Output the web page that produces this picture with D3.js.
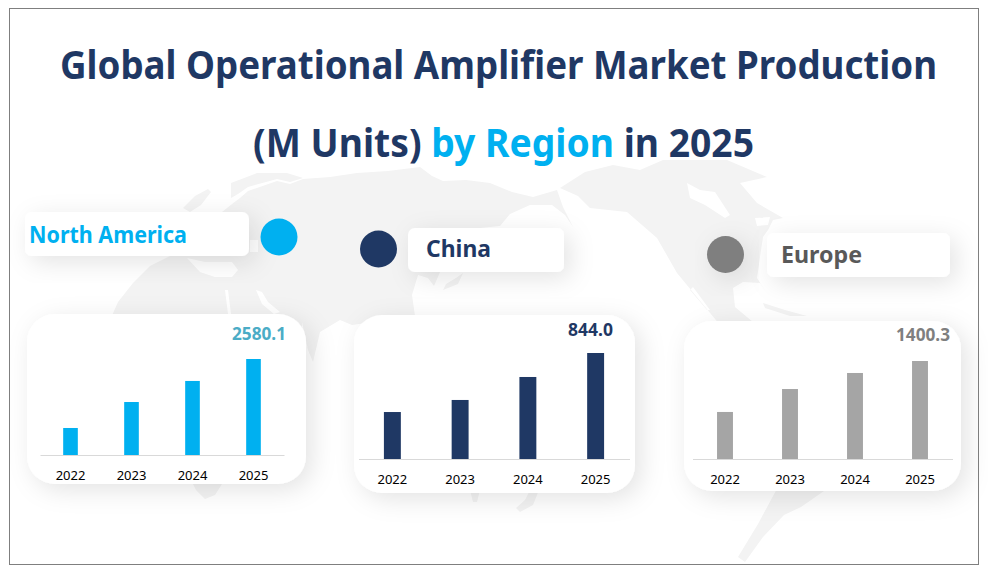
<!DOCTYPE html>
<html>
<head>
<meta charset="utf-8">
<title>Global Operational Amplifier Market Production</title>
<script src="https://cdn.jsdelivr.net/npm/d3@7"></script>
<style>
  html, body { margin: 0; padding: 0; background: #fff; }
  svg { display: block; }
  text { font-family: "Noto Sans", sans-serif; }
  .title, .label, .value { font-weight: 700; }
</style>
</head>
<body>
<svg id="chart" width="988" height="585"></svg>
<script>
// Values, the 2025 ones are printed on it
var years = ["2022", "2023", "2024", "2025"];
var northAmerica = [726, 1424, 1990, 2580.1];
var china = [374, 470, 653, 844.0];
var europe = [672, 1000, 1229, 1400.3];

var regionNames = ["North America", "China", "Europe"];
var regionValues = [northAmerica, china, europe];

// Layout of each region
var panels = [
    { card: [27, 314, 279, 170], axis: [40, 284, 455, 359], pad: 0.76, tickPad: 16, color: "#00B0F0",
      value: [286, 340, 54, "#4BACC6"], box: [25, 212, 224, 44], text: [29, 243, 158, "#00B0F0"],
      dot: [279, 237, 18.5, "#00B0F0"], dotShadow: false },
    { card: [354, 315, 281, 178], axis: [358.5, 629.5, 459, 353], pad: 0.75, tickPad: 16, color: "#1F3864",
      value: [613, 336, 45, "#1F3864"], box: [408, 228, 156, 44], text: [426, 257, 65, "#1F3864"],
      dot: [378.5, 249, 18.5, "#1F3864"], dotShadow: false },
    { card: [684, 321, 277, 170], axis: [692.5, 952.5, 459, 361], pad: 0.755, tickPad: 16, color: "#A5A5A5",
      value: [950, 341, 54, "#7F7F7F"], box: [767, 233, 183, 44], text: [781, 263, 81, "#595959"],
      dot: [725.5, 254.5, 18.5, "#7F7F7F"], dotShadow: true }
];

// Pale world map behind everything, hand traced, seas are holes
var mapPaths = [
    // Africa and Eurasia
    "M110,320L118,302L133,283L150,266L170,256L178,230L200,213L222,212L232,204L240,198L248,191L277,181L290,184L303,179L330,177L357,173L388,171L420,167L432,176L443,181L466,180L490,183L512,192L533,197L557,190L563,207L573,227L565,215L552,205L530,205L510,214L500,226L480,228L470,272L440,272L434,286L428,278L418,275L412,295L415,316L352,325L340,320L320,332L313,362L308,350L302,322L300,400L222,484L215,495L205,499L196,490L150,400Z" +
    "M187,258L205,262L232,262L238,270L232,277L215,277L200,272Z" +
    "M250,240L258,240L258,252L250,252Z" +
    "M225,290L228,290L231,314L228,314Z" +
    "M256,290L262,292L268,302L280,312L274,314L262,304Z",
    // Northern Scandinavia and the arctic coast
    "M231,183L257,173L287,173L303,178L290,182L277,179L248,187L238,194L231,198Z",
    "M183,208L195,196L208,189L211,192L201,205L190,212Z",
    // North America
    "M590,208L578,196L560,188L585,172L613,165L640,170L663,160L727,160L767,177L740,183L757,203L783,218L773,220L768,230L763,237L760,257L757,278L768,295L760,283L743,282L733,288L735,307L753,322L720,325L677,273L657,238L627,212Z" +
    "M687,183L700,190L715,192L730,215L725,218L705,205L690,198Z" +
    "M755,218L770,217L768,225L757,226Z" +
    "M693,287L710,310L707,310L690,290Z",
    // Cuba
    "M763,303L785,310L807,316L790,316L765,308Z",
    // Japan
    "M463,273L458,284L443,290L446,284L456,278Z",
    // South America
    "M779,485L826,485L824,491L801,507L784,515L763,537L745,562L738,557L758,524Z",
    // Tasmania and New Zealand
    "M470,490L480,490L477,502L473,502Z",
    "M539,490L533,505L520,512L516,508L525,500L530,490Z"
];

var svg = d3.select("#chart");

// Soft shadow for the cards, label boxes and the grey dot
var shadow = svg.append("defs").append("filter")
    .attr("id", "shadow")
    .attr("x", "-30%").attr("y", "-50%")
    .attr("width", "170%").attr("height", "210%");
shadow.append("feDropShadow")
    .attr("dx", 6).attr("dy", 6)
    .attr("stdDeviation", 12)
    .attr("flood-color", "#000")
    .attr("flood-opacity", 0.11);

// Outer frame
svg.append("rect")
    .attr("x", 9.5).attr("y", 8.5)
    .attr("width", 969).attr("height", 556)
    .attr("fill", "#fff")
    .attr("stroke", "#7F7F7F");

svg.append("g").selectAll("path")
    .data(mapPaths)
    .enter().append("path")
    .attr("d", function (d) { return d; })
    .attr("fill", "#F3F3F3")
    .attr("fill-rule", "evenodd");

// Title, two lines
svg.append("text")
    .attr("class", "title")
    .attr("x", 60).attr("y", 79)
    .attr("font-size", 38.5)
    .attr("fill", "#1F3864")
    .attr("textLength", 877)
    .attr("lengthAdjust", "spacingAndGlyphs")
    .text("Global Operational Amplifier Market Production");

var line2 = svg.append("text")
    .attr("class", "title")
    .attr("x", 253).attr("y", 157)
    .attr("font-size", 38.5)
    .attr("fill", "#1F3864")
    .attr("textLength", 501)
    .attr("lengthAdjust", "spacingAndGlyphs");
line2.append("tspan").text("(M Units) ");
line2.append("tspan").attr("fill", "#00B0F0").text("by Region");
line2.append("tspan").text(" in 2025");

panels.forEach(function (p, i) {
    var values = regionValues[i];
    var g = svg.append("g");

    // Region label
    g.append("rect")
        .attr("x", p.box[0]).attr("y", p.box[1])
        .attr("width", p.box[2]).attr("height", p.box[3])
        .attr("rx", 7)
        .attr("fill", "#fff")
        .attr("filter", "url(#shadow)");

    g.append("text")
        .attr("class", "label")
        .attr("x", p.text[0]).attr("y", p.text[1])
        .attr("font-size", 23.5)
        .attr("fill", p.text[3])
        .attr("textLength", p.text[2])
        .attr("lengthAdjust", "spacingAndGlyphs")
        .text(regionNames[i]);

    var dot = g.append("circle")
        .attr("cx", p.dot[0]).attr("cy", p.dot[1])
        .attr("r", p.dot[2])
        .attr("fill", p.dot[3]);
    if (p.dotShadow) dot.attr("filter", "url(#shadow)");

    // Card
    g.append("rect")
        .attr("x", p.card[0]).attr("y", p.card[1])
        .attr("width", p.card[2]).attr("height", p.card[3])
        .attr("rx", 28)
        .attr("fill", "#fff")
        .attr("filter", "url(#shadow)");

    // Scales
    var x = d3.scaleBand()
        .domain(years)
        .range([p.axis[0], p.axis[1]])
        .paddingInner(p.pad)
        .paddingOuter(p.pad / 2);
    var y = d3.scaleLinear()
        .domain([0, d3.max(values)])
        .range([p.axis[2], p.axis[3]]);

    g.selectAll(".bar")
        .data(values)
        .enter().append("rect")
        .attr("class", "bar")
        .attr("x", function (d, j) { return x(years[j]); })
        .attr("y", function (d) { return y(d); })
        .attr("width", x.bandwidth())
        .attr("height", function (d) { return y(0) - y(d); })
        .attr("fill", p.color);

    // Axis
    var axis = g.append("g")
        .attr("transform", "translate(0," + p.axis[2] + ")")
        .call(d3.axisBottom(x).tickSize(0).tickPadding(p.tickPad));
    axis.select(".domain").attr("stroke", "#D9D9D9").attr("stroke-width", 1);
    axis.selectAll("text")
        .attr("font-size", 13)
        .attr("font-family", "'Noto Sans', sans-serif")
        .attr("fill", "#000");

    // Only the last year gets a value label
    g.append("text")
        .attr("class", "value")
        .attr("x", p.value[0] - p.value[2]).attr("y", p.value[1])
        .attr("font-size", 18.5)
        .attr("fill", p.value[3])
        .attr("textLength", p.value[2])
        .attr("lengthAdjust", "spacingAndGlyphs")
        .text(d3.format(".1f")(values[values.length - 1]));
});
</script>
</body>
</html>
